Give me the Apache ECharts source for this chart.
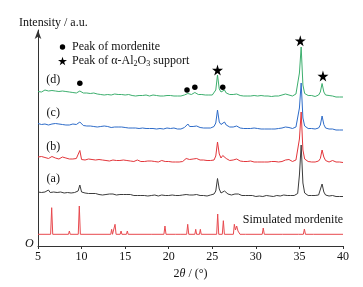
<!DOCTYPE html>
<html>
<head>
<meta charset="utf-8">
<script src="https://cdn.jsdelivr.net/npm/echarts@6/dist/echarts.min.js"></script>
<style>
html,body{margin:0;padding:0;background:#fff;}
#main{width:363px;height:287px;}
</style>
</head>
<body>
<div id="main"></div>
<script>
// 2θ sampling of the measured patterns (5..40, step 0.2)
var thetaStart = 5, thetaStep = 0.2;

// measured patterns, intensity above each curve's own baseline (a.u.)
var curveA = [
  5, 6, 4.5, 6.5, 5, 5.5, 7, 4.5, 6, 5,
  6.5, 4.5, 5.5, 5, 6, 4, 5.5, 4.5, 5, 4,
  5, 4.5, 5, 6, 12, 5, 3.5, 4, 3, 3.5,
  3, 3.5, 2.5, 3.5, 3, 2.5, 3, 2, 3, 2.5,
  2.5, 3, 2, 3, 2.5, 2, 3, 2.5, 2, 2.5,
  2, 2.5, 1.5, 2.5, 2, 1.5, 2.5, 1.5, 2, 1.5,
  2, 1.5, 2, 1, 2, 1.5, 1, 2, 1.5, 1,
  1.5, 2, 2.5, 1.5, 1, 1.5, 1, 2, 1, 1.5,
  1, 1.5, 1, 2, 1.5, 2.5, 3.5, 2, 1.5, 2,
  3, 2.5, 2, 1.5, 2, 1.5, 1.5, 1, 1.5, 2,
  2, 3, 6, 18.5, 8, 4, 5, 6, 4, 3,
  2.5, 2, 2.5, 3, 3.5, 3, 2, 1.5, 2, 1.5,
  1, 1.5, 1, 1.5, 1, 0.5, 1.5, 1, 1, 0.5,
  1, 1.5, 0.5, 1, 1, 0.5, 1, 1.5, 1, 1,
  1.5, 2, 2.5, 1.5, 2, 1.5, 1, 1.5, 2, 3.5,
  22, 52, 14, 4, 2, 1.5, 1, 1.5, 1, 1.5,
  1.5, 2, 4, 13, 5, 2, 1.5, 1, 1, 1.5,
  1, 0.5, 1, 0.5, 0, 0.5
];
var curveB = [
  6, 5, 6.5, 4.5, 5.5, 6, 4.5, 5, 6.5, 4.5,
  5, 5.5, 4, 5, 6, 4.5, 5, 3.5, 4, 5,
  4, 5, 4.5, 6, 12.5, 3.5, 4, 3, 3.5, 4,
  3, 3.5, 2.5, 3, 2, 3.5, 2.5, 3, 2, 2.5,
  3, 2, 2.5, 3, 2, 2.5, 1.5, 2.5, 2, 3,
  2, 2.5, 1.5, 2, 2.5, 1.5, 2, 3, 2, 1.5,
  2, 1.5, 1, 2, 1.5, 2, 1, 1.5, 2, 1,
  1.5, 2.5, 2, 1.5, 1, 1.5, 2, 1, 1.5, 1,
  1.5, 1, 2, 1.5, 2.5, 4.5, 6, 3.5, 3, 4,
  6, 4.5, 3.5, 3, 2.5, 3, 2, 2.5, 2, 2.5,
  2, 3, 7, 21, 9, 5, 7.5, 8, 4.5, 3.5,
  2.5, 3, 3, 4, 4, 3, 2, 2.5, 1.5, 2,
  1.5, 1, 2, 1.5, 1, 1.5, 1, 1.5, 1, 1.5,
  1, 1.5, 1, 0.5, 1.5, 1, 1.5, 1, 1, 0.5,
  1.5, 2, 3, 2.5, 3.5, 2, 1.5, 2, 3, 4.5,
  24, 51, 13, 4, 2, 1.5, 1.5, 1, 1.5, 1,
  1.5, 2, 4.5, 13, 6, 2.5, 1.5, 1, 2, 2.5,
  1.5, 1, 0.5, 1, 0.5, 0.5
];
var curveC = [
  6.5, 7, 5.5, 7.5, 6, 6.5, 5, 7, 6, 5.5,
  6.5, 5, 6, 7, 5.5, 6, 5, 6.5, 5, 5.5,
  6, 5, 5.5, 6.5, 8, 6, 4.5, 5, 4, 4.5,
  4, 4.5, 3.5, 4, 3, 4, 3.5, 3, 4, 3,
  3.5, 3, 2.5, 3.5, 3, 2.5, 3, 2, 3, 2.5,
  2.5, 3, 2, 2.5, 2, 3, 2, 2.5, 1.5, 2.5,
  2, 2.5, 1.5, 2, 1.5, 2.5, 1.5, 2, 1, 1.5,
  1.5, 2, 1, 1.5, 2, 1, 1.5, 1, 2, 1.5,
  1, 1.5, 1, 2, 2.5, 4, 6, 3.5, 3, 3.5,
  5, 4, 3, 2.5, 3, 2, 2.5, 2, 1.5, 2,
  2, 3.5, 7, 20, 8, 5.5, 7.5, 8, 5, 3.5,
  3, 2.5, 3, 3.5, 4, 3, 2, 2.5, 1.5, 2,
  1.5, 1, 1.5, 1, 2, 1, 1.5, 0.5, 1, 1.5,
  1, 0.5, 1, 1.5, 1, 0.5, 1, 1, 1.5, 1,
  2, 2.5, 3, 3.5, 2.5, 2, 1.5, 2, 3, 5,
  22, 47, 12, 4, 2, 1.5, 1, 1.5, 1, 1,
  1, 2, 5, 14, 5.5, 2, 1.5, 1, 0.5, 1,
  0.5, 0, 0.5, 0, 0.5, 0
];
var curveD = [
  5.5, 6.5, 5, 6, 7, 5.5, 6, 5, 6.5, 5,
  6, 5, 5.5, 4.5, 6, 5, 5.5, 4.5, 5, 5.5,
  4.5, 5, 4, 5, 6, 4.5, 4, 3.5, 4, 3,
  3.5, 3, 4, 2.5, 3, 3.5, 2.5, 3, 2, 3,
  2.5, 3, 2, 2.5, 3, 2, 2.5, 1.5, 2.5, 2,
  2, 1.5, 2.5, 2, 1.5, 2, 1, 2, 1.5, 2,
  1.5, 1, 2, 1.5, 1, 1.5, 2, 1, 1.5, 1,
  1, 1.5, 1, 2, 1.5, 1, 1.5, 1, 1, 1.5,
  1, 1.5, 1, 1.5, 2, 3, 3.5, 2.5, 2.5, 3,
  4.5, 3.5, 2.5, 2, 2.5, 1.5, 2, 1.5, 2, 2,
  2, 3.5, 7, 22, 8, 5, 6.5, 7, 4, 3,
  2.5, 2, 2.5, 3, 3, 2, 1.5, 2, 1, 1.5,
  1, 1.5, 1, 0.5, 1.5, 1, 1, 0.5, 1.5, 1,
  1, 0.5, 1, 1, 0.5, 1.5, 1, 0.5, 1, 1.5,
  2, 2.5, 3, 3.5, 2, 1.5, 1, 2, 3, 5,
  24, 50, 12, 3.5, 2, 1.5, 1, 1.5, 1, 0.5,
  1, 2, 5, 13.5, 5, 2, 1, 1.5, 0.5, 1,
  0.5, 0, 0.5, 0, 0.5, 0
];
// vertical stacking offsets of the measured curves
var offsets = [49, 83, 116, 149];

// simulated mordenite pattern
var simX = [5, 6.45, 6.57, 6.69, 8.5, 8.6, 8.7, 9.62, 9.74, 9.86,
  13.35, 13.45, 13.55, 13.72, 13.84, 13.96, 14.43, 14.53, 14.63, 15.15, 15.25, 15.35,
  18.06, 18.16, 18.26, 19.45, 19.57, 19.69, 20.8, 20.9, 21.0, 21.4, 21.5, 21.6,
  22.06, 22.18, 22.3, 23.0, 23.1, 23.2, 23.53, 23.63, 23.73, 25.5, 25.62, 25.74,
  26.15, 26.27, 26.39, 27.42, 27.53, 27.66, 27.8, 27.95, 28.07, 28.18,
  28.8, 28.9, 29.0, 30.73, 30.85, 30.97, 33.05, 33.15, 33.25, 34.9, 35.0, 35.1,
  35.45, 35.57, 35.69, 36.6, 36.7, 36.8, 40];
var simY = [11.7, 11.7, 38.3, 11.7, 11.7, 15, 11.7, 11.7, 40, 11.7,
  11.7, 16.7, 11.7, 11.7, 21.7, 11.7, 11.7, 15, 11.7, 11.7, 15, 11.7,
  11.7, 13, 11.7, 11.7, 20, 11.7, 11.7, 13, 11.7, 11.7, 13, 11.7,
  11.7, 21.7, 11.7, 11.7, 16.7, 11.7, 11.7, 16.7, 11.7, 11.7, 32, 11.7,
  11.7, 25.3, 11.7, 11.7, 21.7, 16, 20, 15, 16, 11.7,
  11.7, 13, 11.7, 11.7, 18, 11.7, 11.7, 13, 11.7, 11.7, 13.5, 11.7,
  11.7, 17, 11.7, 11.7, 13, 11.7, 11.7];

// peak markers [2θ, height on chart]
var dotPeaks = [[9.8, 162.7], [22.1, 156], [23.0, 158.7], [26.2, 158.7]];
var starPeaks = [[25.6, 176], [35.1, 205.3], [37.7, 170]];

// curve labels
var curveNames = ['(a)', '(b)', '(c)', '(d)'];
var labelPos = [[6.75, 66.7], [6.75, 99.3], [6.75, 133], [6.75, 166]];
var simName = 'Simulated mordenite';
var simLabelPos = [28.5, 26];

var xTicks = [5, 10, 15, 20, 25, 30, 35, 40];

var colors = ['#3c3c3c', '#e3363b', '#2e6cc9', '#3daf6e'];
var simColor = '#e8494e';
var serif = 'Liberation Serif';
var ink = '#111';
var starPath = 'path://M50,0 L61,35 L98,35 L68,57 L79,91 L50,70 L21,91 L32,57 L2,35 L39,35 Z';
// small dot inside a larger invisible box so the legend dot stays small
var dotIcon = 'path://M0,0 M100,100 M50,20 A30,30 0 1 1 49.9,20 Z';

var dotName = 'Peak of mordenite';
var starName = 'Peak of α-Al2O3 support';

function toPairs(vals, off) {
  var out = [];
  for (var i = 0; i < vals.length; i++) {
    out.push([+(thetaStart + i * thetaStep).toFixed(2), vals[i] + off]);
  }
  return out;
}

var myChart = echarts.init(document.getElementById('main'));
var series = [];
var curves = [curveA, curveB, curveC, curveD];
for (var k = 0; k < curves.length; k++) {
  series.push({
    type: 'line', name: curveNames[k], data: toPairs(curves[k], offsets[k]),
    showSymbol: false, symbol: 'none',
    lineStyle: {color: colors[k], width: 1}, z: 2 + k
  });
}
var simData = [];
for (var j = 0; j < simX.length; j++) simData.push([simX[j], simY[j]]);
series.push({
  type: 'line', name: 'sim', data: simData, symbol: 'none',
  lineStyle: {color: simColor, width: 1}
});
series.push({
  type: 'scatter', name: dotName, data: dotPeaks, symbol: 'circle', symbolSize: 5.5,
  itemStyle: {color: '#000', opacity: 1}, z: 10
});
series.push({
  type: 'scatter', name: starName, data: starPeaks, symbol: starPath, symbolSize: 11,
  itemStyle: {color: '#000', opacity: 1}, z: 10
});
var lab = [];
for (var m = 0; m < curveNames.length; m++) {
  lab.push({name: curveNames[m], value: labelPos[m]});
}
series.push({
  type: 'scatter', name: 'labels', symbolSize: 0, silent: true,
  data: lab, itemStyle: {opacity: 1},
  label: {show: true, position: 'inside', formatter: '{b}', color: ink,
    fontFamily: serif, fontSize: 12}
});
series.push({
  type: 'scatter', name: 'simlabel', symbolSize: 0, silent: true,
  data: [{name: simName, value: simLabelPos}], itemStyle: {opacity: 1},
  label: {show: true, position: 'right', distance: 0, formatter: '{b}', color: ink,
    fontFamily: serif, fontSize: 12}
});

var option = {
  animation: false,
  backgroundColor: '#fff',
  title: {
    text: 'Intensity / a.u.', left: 14, top: 12,
    textStyle: {fontFamily: serif, fontSize: 12, fontWeight: 'normal', color: ink}
  },
  legend: {
    data: [{name: dotName, icon: dotIcon}, {name: starName}],
    orient: 'vertical', left: 53, top: 36,
    itemWidth: 9, itemHeight: 9, itemGap: 2,
    textStyle: {fontFamily: serif, fontSize: 12, color: ink,
      rich: {sub: {fontSize: 8, verticalAlign: 'bottom', padding: [6, 0, 0, 0], fontFamily: serif, color: ink}}},
    formatter: function (n) {
      if (n === starName) return 'Peak of α-Al{sub|2}O{sub|3} support';
      return n;
    }
  },
  grid: {left: 38, right: 20, top: 30, bottom: 41},
  xAxis: {
    type: 'value', min: 5, max: 40, interval: 5,
    name: '2{i|θ} / (°)', nameLocation: 'middle', nameGap: 18,
    nameTextStyle: {fontFamily: serif, fontSize: 12, color: ink,
      rich: {i: {fontStyle: 'italic', fontFamily: serif, fontSize: 12, color: ink}}},
    axisLine: {lineStyle: {color: '#333', width: 1}},
    axisTick: {show: true, length: 3, lineStyle: {color: '#333'}},
    axisLabel: {fontFamily: serif, fontSize: 12, color: ink, margin: 5,
      customValues: xTicks},
    splitLine: {show: false}
  },
  yAxis: {
    type: 'value', min: 0, max: 216,
    axisLine: {show: true, lineStyle: {color: '#333', width: 1},
      symbol: ['none', 'arrow'], symbolSize: [5, 9]},
    axisTick: {show: false}, axisLabel: {show: false}, splitLine: {show: false}
  },
  graphic: [{
    type: 'text', left: 25, top: 238,
    style: {text: 'O', font: 'italic 12px "Liberation Serif"', fill: ink}
  }],
  series: series
};
myChart.setOption(option);
</script>
</body>
</html>
